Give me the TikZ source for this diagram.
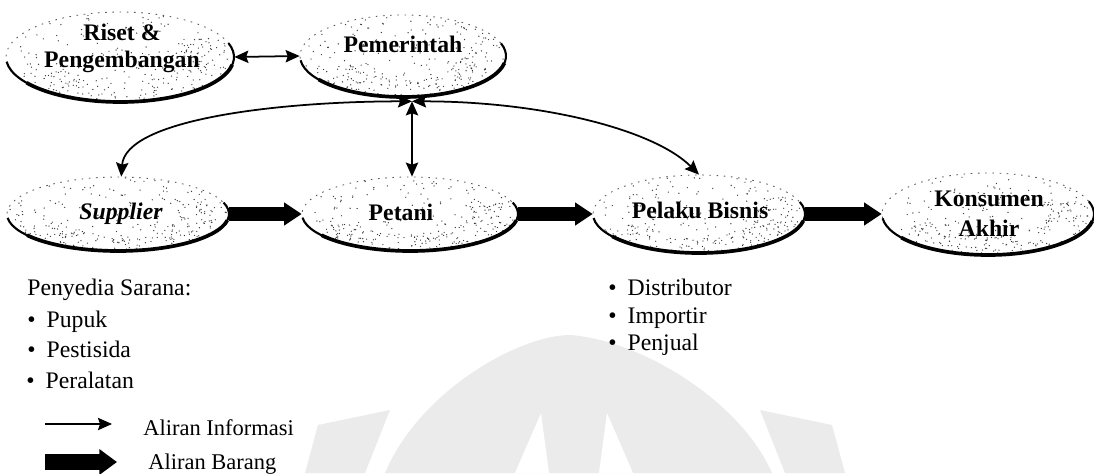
\documentclass[tikz,border=0pt]{standalone}
\usepackage{fontspec}
\setmainfont{Liberation Serif}
\usetikzlibrary{arrows.meta,shapes.geometric,calc}

\tikzset{
  actorshape/.style={ellipse, inner sep=0pt, draw=none},
  lbl/.style={inner sep=0pt, align=center, font=\fontsize{13.5}{15.3}\selectfont\bfseries},
  listtext/.style={anchor=base west, inner sep=0pt, font=\fontsize{13.5}{16}\selectfont},
  legendtext/.style={anchor=base west, inner sep=0pt, font=\fontsize{12.8}{15}\selectfont},
  infohead/.tip={Stealth[length=8pt,width=7pt,inset=1.2pt]},
  info/.style={line width=1pt, infohead-infohead},
  infoone/.style={line width=1pt, -infohead},
  goods/.style={line width=7.9pt, -{Triangle[length=10pt,width=12.5pt]}},
  goodslegend/.style={line width=9.4pt, -{Triangle[length=10pt,width=14pt]}},
  wmark/.style={fill=gray!16},
}

% an actor: ellipse node, speckled inside (denser towards the lower right),
% sparse dotted rim, heavy lower edge
\newcommand\actor[5]{%
  \node[actorshape, minimum width={#4*0.04cm}, minimum height={#5*0.04cm}] (#1) at (#2,#3) {};
  \begin{scope}
    \clip (#2,#3) ellipse [x radius=#4, y radius=#5];
    \foreach \k in {1,...,140}{%
      \pgfmathsetmacro\aa{rnd*360}%
      \pgfmathsetmacro\rr{sqrt(rnd)*0.98}%
      \fill[black!75] ({#2+\rr*#4*cos(\aa)},{#3+\rr*#5*sin(\aa)}) circle[radius=0.7];
    }
    \foreach \k in {1,...,130}{%
      \pgfmathsetmacro\aa{200+rnd*190}%
      \pgfmathsetmacro\rr{0.55+0.43*rnd}%
      \fill[black!80] ({#2+\rr*#4*cos(\aa)},{#3+\rr*#5*sin(\aa)}) circle[radius=0.65];
    }
  \end{scope}
  \draw[black!65, line width=0.5pt, dash pattern=on 0.9pt off 3.2pt]
    (#2,#3) ellipse [x radius=#4, y radius=#5];
  \draw[line width=1.2pt] ({#2+#4*cos(186)},{#3+#5*sin(186)})
    arc[start angle=186, end angle=378, x radius=#4, y radius=#5];
  \draw[line width=2.1pt] ({#2+#4*cos(215)},{#3+#5*sin(215)})
    arc[start angle=215, end angle=350, x radius=#4, y radius=#5];
}

\newcommand\itm[1]{\makebox[11pt][l]{\textbullet}#1}

\begin{document}
\begin{tikzpicture}[x=0.02cm,y=0.02cm]
\useasboundingbox (0,0) rectangle (1094,-473);
\pgfmathsetseed{4242}

% faint emblem in the background
\fill[wmark] (385,-473) .. controls (420,-390) and (520,-335) .. (570,-335)
  .. controls (640,-340) and (740,-400) .. (772,-473) -- cycle;
\fill[white] (541,-413) -- (515,-473) -- (549,-473) -- cycle;
\fill[white] (607,-413) -- (599,-473) -- (633,-473) -- cycle;
\fill[wmark] (305,-473) -- (318,-425) -- (390,-410) -- (365,-473) -- cycle;
\fill[wmark] (845,-473) -- (832,-425) -- (760,-410) -- (785,-473) -- cycle;

% actors
\actor{ris}{120}{-57}{114}{45}
\actor{pem}{403}{-56}{103}{41}
\actor{sup}{118}{-214}{111}{37}
\actor{pet}{410}{-214}{108}{37}
\actor{pel}{699}{-214}{106}{39}
\actor{kon}{988}{-214}{106}{41}

% actor labels
\node[lbl] (ristxt) at (122,-48) {Riset \&\\Pengembangan};
\node[lbl, anchor=base] (pemtxt) at (403,-53) {Pemerintah};
\node[lbl, anchor=base] (suptxt) at (121,-219) {\itshape Supplier};
\node[lbl, anchor=base] (pettxt) at (401,-220) {Petani};
\node[lbl, anchor=base] (peltxt) at (700,-218) {Pelaku Bisnis};
\node[lbl, font=\fontsize{13.5}{17}\selectfont\bfseries] (kontxt) at (989,-214) {Konsumen\\Akhir};

% information flows
\coordinate (hub) at ($(pem.south)+(9,-4)$);
\draw[info] (ris.east) -- (pem.west);
\draw[info] (hub) .. controls +(-130,0) and +(4,58) .. (sup.85);
\draw[info] (hub) -- (hub |- pet.north);
\draw[info] (hub) .. controls +(130,0) and +(-45,45) .. (pel.north);

% goods flows
\draw[goods] (sup.east) -- (pet.west);
\draw[goods] (pet.east) -- (pel.west);
\draw[goods] (pel.east) -- (kon.west);

% lists
\node[listtext] (sarana) at (27,-295) {Penyedia Sarana:};
\node[listtext] (pupuk) at (27,-327) {\itm{Pupuk}};
\node[listtext] (pest) at (27,-357) {\itm{Pestisida}};
\node[listtext] (alat) at (26,-388) {\itm{Peralatan}};

\node[listtext] (dist) at (608,-295) {\itm{Distributor}};
\node[listtext] (imp) at (608,-323) {\itm{Importir}};
\node[listtext] (jual) at (608,-350) {\itm{Penjual}};

% legend
\coordinate (infoA) at (45,-424);
\coordinate (infoB) at (112,-424);
\draw[infoone] (infoA) -- (infoB);
\node[legendtext] (infotxt) at (143,-435) {Aliran Informasi};
\coordinate (goodsA) at (45,-462);
\coordinate (goodsB) at (117,-462);
\draw[goodslegend] (goodsA) -- (goodsB);
\node[legendtext] (goodstxt) at (148,-469) {Aliran Barang};
\end{tikzpicture}
\end{document}
